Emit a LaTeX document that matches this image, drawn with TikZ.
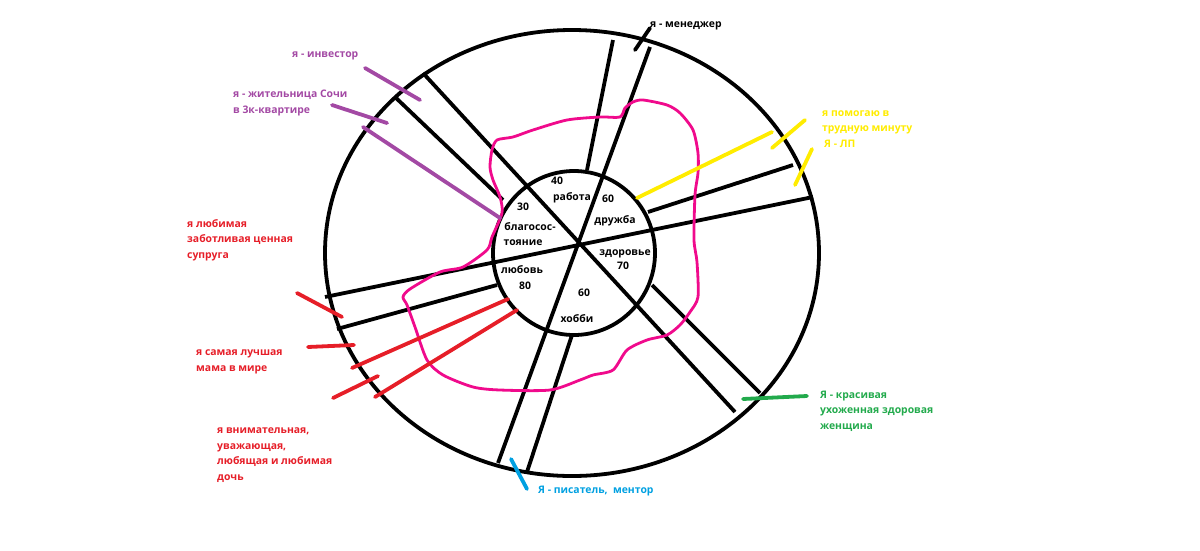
\documentclass[tikz,border=0pt]{standalone}
\usepackage{fontspec}
\setmainfont{Open Sans}
\usetikzlibrary{positioning}

\definecolor{mpurple}{RGB}{163,73,164}
\definecolor{mred}{RGB}{230,30,40}
\definecolor{myellow}{RGB}{255,236,0}
\definecolor{mgreen}{RGB}{34,170,76}
\definecolor{mblue}{RGB}{0,160,225}
\definecolor{mpink}{RGB}{240,10,140}

\begin{document}
\begin{tikzpicture}[
  x=1pt, y=-1pt,
  rim/.style={line width=3.8pt, black},
  spoke/.style={line width=3.8pt, black},
  roleline/.style={line width=3.8pt, line cap=round},
  blob/.style={line width=2.8pt, mpink, line join=round},
  seg/.style={font=\fontsize{10.4}{12}\selectfont\bfseries, inner sep=0pt, anchor=base},
  lbl/.style={font=\fontsize{10.4}{15.6}\selectfont\bfseries, align=left,
              inner sep=0pt, anchor=base west}
]
\useasboundingbox (0,0) rectangle (1200,550);

% wheel
\draw[rim] (572,253) ellipse [x radius=247, y radius=223];
\draw[rim] (574,253) ellipse [x radius=81, y radius=82];

\draw[spoke] (423,73) -- (735,412);
\draw[spoke] (650,47) -- (498,463);
\draw[spoke] (325,297) -- (813,197);
\draw[spoke] (395,97) -- (503,200);
\draw[spoke] (613,40) -- (587,170);
\draw[spoke] (793,165) -- (648,212);
\draw[spoke] (760,393) -- (652,285);
\draw[spoke] (527,472) -- (572,335);
\draw[spoke] (337,329) -- (497,285);

% balance line
\draw[blob] plot[smooth cycle, tension=0.45] coordinates {
  (643,100) (667,105) (680,113) (693,130) (698,153) (698,173) (695,195)
  (694,240) (697,262) (698,297) (690,312) (680,325) (667,335) (647,340)
  (627,350) (613,370) (593,375) (580,380) (550,390) (500,390) (473,387)
  (443,375) (427,360) (415,327) (407,305) (403,297) (410,289) (440,272)
  (463,267) (487,250) (492,237) (502,213) (500,197) (493,180) (490,167)
  (492,150) (497,140) (513,137) (533,130) (567,120) (600,117) (620,117)
  (625,108) (633,102)};

% segments
\node[seg] (s40) at (557,184.5) {40};
\node[seg] (rabota) at (572,200.5) {работа};
\node[seg] (s60a) at (608,202.5) {60};
\node[seg] (druzhba) at (615,223.5) {дружба};
\node[seg] (s30) at (523,210.5) {30};
\node[seg] (blago) at (530,230.5) {благосос-};
\node[seg] (toyanie) at (523,245.5) {тояние};
\node[seg] (zdorovie) at (625,255.5) {здоровье};
\node[seg] (s70) at (623,269.5) {70};
\node[seg] (lyubov) at (522,273.5) {любовь};
\node[seg] (s80) at (525,289.5) {80};
\node[seg] (s60b) at (584,296.5) {60};
\node[seg] (hobbi) at (577,322.5) {хобби};

% roles (multi-line labels sit on their last line)
\draw[roleline, black] (650,28) -- (635,50);
\node[lbl] (manager) at (650,27.5) {я - менеджер};

\draw[roleline, mpurple] (365,68) -- (420,100);
\draw[roleline, mpurple] (332,105) -- (387,123);
\draw[roleline, mpurple] (363,127) -- (500,218);
\node[lbl, text=mpurple] (investor) at (292,57.5) {я - инвестор};
\node[lbl, text=mpurple] (sochi) at (233,113.5) {я - жительница Сочи\\в 3к-квартире};

\draw[roleline, myellow] (637,198) -- (772,132);
\draw[roleline, myellow] (772,148) -- (805,120);
\draw[roleline, myellow] (795,185) -- (812,149);
\node[lbl, text=myellow] (helper) at (822,147.5) {я помогаю в\\трудную минуту\\\hspace*{2pt}Я - ЛП};

\draw[roleline, mgreen] (743,399) -- (807,396);
\node[lbl, text=mgreen] (woman) at (820,429.5) {Я - красивая\\ухоженная здоровая\\женщина};

\draw[roleline, mblue] (511,459) -- (527,489);
\node[lbl, text=mblue] (writer) at (538,493.5) {Я - писатель,\ \ ментор};

\draw[roleline, mred] (297,293) -- (342,317);
\draw[roleline, mred] (308,347) -- (354,345);
\draw[roleline, mred] (352,368) -- (508,299);
\draw[roleline, mred] (333,398) -- (378,376);
\draw[roleline, mred] (375,397) -- (517,310);
\node[lbl, text=mred] (wife) at (187,258.5) {я любимая\\заботливая ценная\\супруга};
\node[lbl, text=mred] (mother) at (196,371.5) {я самая лучшая\\мама в мире};
\node[lbl, text=mred] (daughter) at (217,480.5) {я внимательная,\\уважающая,\\любящая и любимая\\дочь};

\end{tikzpicture}
\end{document}
